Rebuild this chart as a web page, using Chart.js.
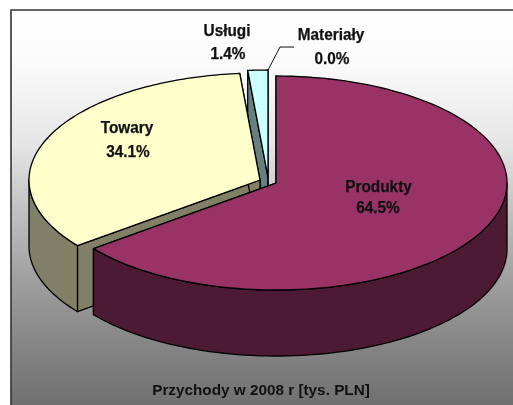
<!DOCTYPE html>
<html>
<head>
<meta charset="utf-8">
<style>html,body{margin:0;padding:0;background:#fff}canvas{display:block}</style>
<script src="https://cdn.jsdelivr.net/npm/chart.js@4"></script>
</head>
<body>
<canvas id="c" width="513" height="405"></canvas>
<script>
const categories = ['Produkty', 'Towary', 'Usługi', 'Materiały'];
const values = [64.5, 34.1, 1.4, 0.0];
const titleText = 'Przychody w 2008 r [tys. PLN]';

const topColors = ['#993366', '#FFFFCC', '#CCFFFF', '#CCFFFF'];
const sideColors = ['#4D1A33', '#808066', '#668080', '#668080'];
const radiusX = 231, squash = 107 / 231, depth = 66;
const sliceShift = [[15, 0], [-1, -3], [7, -6], [7, -6]];
const labelAt = [
  [[378.5, 186], [378, 207]],
  [[127, 127], [128, 151]],
  [[227, 30], [228, 53]],
  [[331, 34], [332, 58]]
];
const FONT = 'bold 16px "Liberation Sans", Arial, sans-serif';
const INK = '#111';
const bgStops = [[10, '#ffffff'], [60, '#fbfbfb'], [143, '#e6e6e6'], [210, '#c2c2c2'], [277, '#a0a0a0'], [343, '#868686'], [405, '#707070']];

let cy = 0;
const proj = (el, a) => ({
  x: el.x + el.outerRadius * Math.cos(a),
  y: cy + (el.y - cy) * squash + el.outerRadius * squash * Math.sin(a)
});
const centre = el => ({ x: el.x, y: cy + (el.y - cy) * squash });

function drawSide(ctx, el, color) {
  const c = centre(el);
  ctx.fillStyle = color;
  ctx.strokeStyle = '#000';
  ctx.lineWidth = 1.3;
  ctx.lineJoin = 'round';
  const face = a => {
    const p = proj(el, a);
    ctx.beginPath();
    ctx.moveTo(c.x, c.y);
    ctx.lineTo(p.x, p.y);
    ctx.lineTo(p.x, p.y + depth);
    ctx.lineTo(c.x, c.y + depth);
    ctx.closePath();
    ctx.fill();
    ctx.stroke();
  };
  if (el.endAngle - el.startAngle < 1e-6) return;
  face(el.startAngle);
  face(el.endAngle);
  // outer wall: only the front half of the rim (canvas angles 0..PI)
  const two = Math.PI * 2;
  for (const k of [-1, 0, 1]) {
    const a0 = Math.max(el.startAngle, two * k);
    const a1 = Math.min(el.endAngle, Math.PI + two * k);
    if (a1 <= a0) continue;
    ctx.beginPath();
    for (let i = 0; i <= 80; i++) {
      const p = proj(el, a0 + (a1 - a0) * i / 80);
      i ? ctx.lineTo(p.x, p.y) : ctx.moveTo(p.x, p.y);
    }
    for (let i = 80; i >= 0; i--) {
      const p = proj(el, a0 + (a1 - a0) * i / 80);
      ctx.lineTo(p.x, p.y + depth);
    }
    ctx.closePath();
    ctx.fill();
    ctx.stroke();
  }
}

function label(ctx, text, x, y) {
  ctx.save();
  ctx.translate(x, y + 5.7);
  ctx.scale(0.96, 1);
  ctx.fillText(text, 0, 0);
  ctx.strokeText(text, 0, 0);
  ctx.restore();
}

const pie3d = {
  id: 'pie3d',
  beforeDraw(chart) {
    const ctx = chart.ctx, W = chart.width, H = chart.height;
    ctx.save();
    ctx.fillStyle = '#fff';
    ctx.fillRect(0, 0, W, H);
    const g = ctx.createLinearGradient(0, 10, 0, H);
    bgStops.forEach(s => g.addColorStop((s[0] - 10) / (H - 10), s[1]));
    ctx.fillStyle = g;
    ctx.fillRect(11, 10, W - 11, H - 10);
    ctx.strokeStyle = '#333';
    ctx.lineWidth = 1.6;
    ctx.beginPath();
    ctx.moveTo(11, H);
    ctx.lineTo(11, 10);
    ctx.lineTo(W, 10);
    ctx.stroke();
    ctx.restore();
  },
  afterDatasetsUpdate(chart) {
    const area = chart.chartArea;
    cy = (area.top + area.bottom) / 2;
    chart.getDatasetMeta(0).data.forEach((el, i) => {
      el.x += sliceShift[i][0];
      el.y += sliceShift[i][1] / squash;
    });
  },
  beforeDatasetsDraw(chart) {
    const ctx = chart.ctx, arcs = chart.getDatasetMeta(0).data;
    [2, 1, 0].forEach(i => drawSide(ctx, arcs[i], sideColors[i]));
    ctx.save();
    ctx.translate(0, cy);
    ctx.scale(1, squash);
    ctx.translate(0, -cy);
  },
  afterDatasetsDraw(chart) {
    const ctx = chart.ctx, arcs = chart.getDatasetMeta(0).data;
    ctx.restore();
    arcs.forEach(el => {
      if (el.endAngle - el.startAngle < 1e-6) return;
      const c = centre(el);
      ctx.beginPath();
      ctx.moveTo(c.x, c.y);
      for (let i = 0; i <= 120; i++) {
        const p = proj(el, el.startAngle + (el.endAngle - el.startAngle) * i / 120);
        ctx.lineTo(p.x, p.y);
      }
      ctx.closePath();
      ctx.strokeStyle = '#000';
      ctx.lineWidth = 1.3;
      ctx.lineJoin = 'round';
      ctx.stroke();
    });
    // leader line to the zero-size slice
    const m = proj(arcs[3], arcs[3].startAngle);
    ctx.beginPath();
    ctx.moveTo(m.x, m.y);
    ctx.lineTo(m.x + 12, m.y - 23);
    ctx.lineTo(m.x + 26, m.y - 23);
    ctx.strokeStyle = '#111';
    ctx.lineWidth = 1;
    ctx.stroke();
    // labels
    ctx.font = FONT;
    ctx.fillStyle = INK;
    ctx.strokeStyle = INK;
    ctx.lineWidth = 0.25;
    ctx.textAlign = 'center';
    ctx.textBaseline = 'alphabetic';
    categories.forEach((name, i) => {
      label(ctx, name, labelAt[i][0][0], labelAt[i][0][1]);
      label(ctx, values[i].toFixed(1) + '%', labelAt[i][1][0], labelAt[i][1][1]);
    });
  }
};

new Chart(document.getElementById('c'), {
  type: 'pie',
  data: {
    labels: categories,
    datasets: [{
      data: values,
      backgroundColor: topColors,
      borderWidth: 0,
      radius: radiusX,
      clip: false
    }]
  },
  options: {
    responsive: false,
    animation: false,
    events: [],
    layout: { padding: { left: 9, right: 0, top: 0, bottom: 0 } },
    plugins: {
      legend: { display: false },
      tooltip: { enabled: false },
      title: {
        display: true,
        position: 'bottom',
        text: titleText,
        color: INK,
        font: { family: '"Liberation Sans", Arial, sans-serif', size: 15.3, weight: 'bold', lineHeight: 1.2 },
        padding: { top: 15.3, bottom: 5.3 }
      }
    }
  },
  plugins: [pie3d]
});
</script>
</body>
</html>
